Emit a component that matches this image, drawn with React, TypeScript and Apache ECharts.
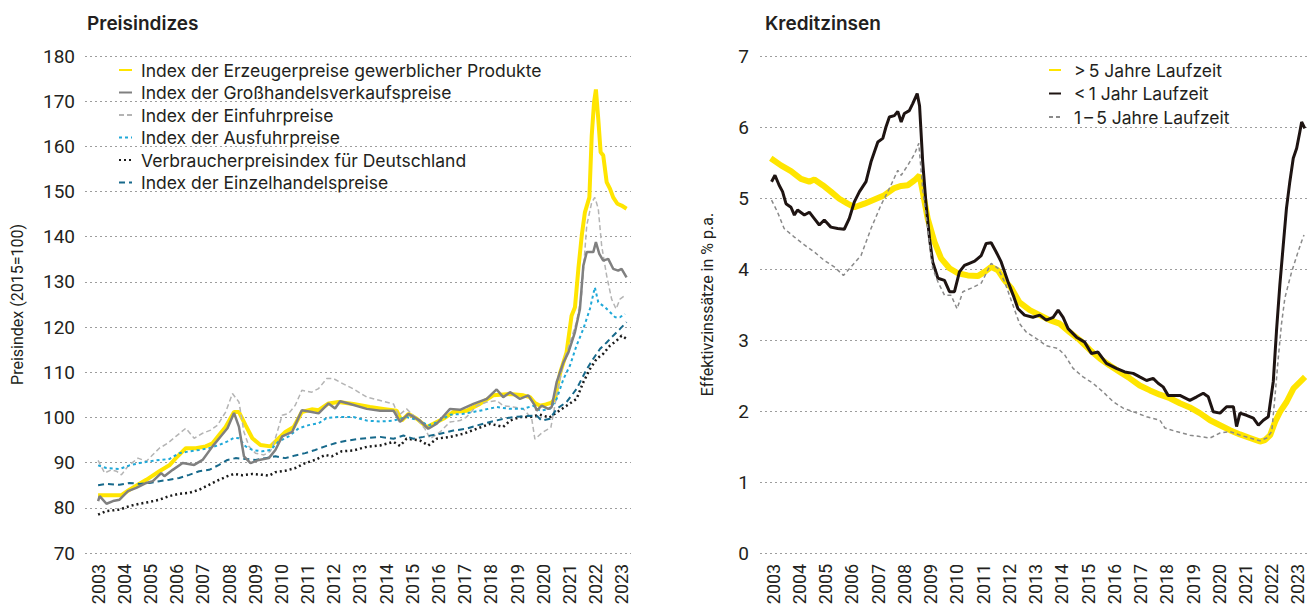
import React, { useEffect, useRef } from "react";
import * as echarts from "echarts";

// ---------- Tick labels ----------
const yearTicks: number[] = [2003, 2004, 2005, 2006, 2007, 2008, 2009, 2010, 2011, 2012, 2013, 2014, 2015, 2016, 2017, 2018, 2019, 2020, 2021, 2022, 2023];

// ---------- Left chart: Preisindizes (2015=100), [year, value] ----------
const erzeugerpreise: number[][] = [
  [2003.0, 82.8], [2003.89, 82.8], [2004.2, 84.0], [2004.84, 86.2], [2005.34, 88.1], [2005.72, 89.4], [2005.97, 91.0],
  [2006.35, 93.2], [2006.73, 93.2], [2007.11, 93.6], [2007.37, 94.3], [2007.62, 96.1], [2007.87, 97.9], [2008.19, 101.2],
  [2008.38, 101.2], [2008.63, 98.3], [2008.89, 95.4], [2009.2, 93.9], [2009.58, 93.6], [2009.9, 95.4], [2010.15, 96.8],
  [2010.47, 97.9], [2010.78, 101.2], [2011.16, 101.8], [2011.42, 101.6], [2011.8, 103.1], [2012.18, 103.4], [2012.75, 103.0],
  [2013.38, 102.3], [2013.89, 101.9], [2014.4, 101.5], [2014.59, 99.3], [2014.85, 100.8], [2015.17, 99.7], [2015.55, 97.9],
  [2015.8, 98.6], [2016.18, 99.7], [2016.57, 101.2], [2017.07, 101.5], [2017.58, 103.0], [2018.09, 104.9], [2018.73, 105.2],
  [2019.24, 104.9], [2019.49, 104.5], [2019.68, 103.2], [2019.88, 102.6], [2020.1, 102.9], [2020.32, 103.3], [2020.45, 104.2],
  [2020.64, 109.8], [2020.89, 114.4], [2021.08, 122.5], [2021.21, 124.4], [2021.34, 132.9], [2021.47, 140.3], [2021.59, 145.4],
  [2021.76, 148.7], [2021.85, 162.4], [2021.94, 169.8], [2022.01, 172.6], [2022.1, 166.1], [2022.19, 158.7], [2022.29, 158.0],
  [2022.42, 152.1], [2022.55, 150.6], [2022.67, 148.7], [2022.83, 147.3], [2022.99, 146.9], [2023.18, 146.2],
];
const grosshandel: number[][] = [
  [2003.0, 81.5], [2003.06, 82.6], [2003.32, 80.9], [2003.57, 81.5], [2003.82, 81.8], [2004.14, 83.7], [2004.46, 84.4],
  [2004.84, 85.5], [2005.09, 85.9], [2005.41, 87.7], [2005.53, 87.0], [2005.85, 88.4], [2006.23, 89.9], [2006.67, 89.5],
  [2006.99, 90.6], [2007.37, 93.6], [2007.68, 95.8], [2007.94, 97.6], [2008.19, 101.0], [2008.38, 97.9], [2008.57, 91.4],
  [2008.82, 89.9], [2009.14, 90.6], [2009.52, 91.0], [2009.77, 92.8], [2010.03, 95.8], [2010.41, 96.8], [2010.78, 101.6],
  [2011.16, 101.2], [2011.42, 100.9], [2011.8, 103.1], [2012.05, 102.0], [2012.24, 103.6], [2012.56, 103.1], [2013.26, 101.9],
  [2013.77, 101.5], [2014.28, 101.5], [2014.53, 99.0], [2014.85, 100.8], [2015.29, 99.3], [2015.61, 97.5], [2015.93, 98.6],
  [2016.44, 101.9], [2016.82, 101.7], [2017.33, 103.0], [2017.84, 104.1], [2018.22, 106.2], [2018.47, 104.5], [2018.73, 105.6],
  [2019.11, 104.1], [2019.43, 104.9], [2019.68, 102.6], [2019.75, 101.5], [2019.94, 102.6], [2020.19, 101.9], [2020.32, 102.3],
  [2020.51, 107.8], [2020.77, 112.2], [2020.96, 114.4], [2021.21, 118.9], [2021.4, 124.0], [2021.53, 133.6], [2021.66, 136.6],
  [2021.78, 136.6], [2021.91, 136.6], [2022.01, 138.8], [2022.14, 136.2], [2022.29, 134.7], [2022.48, 135.1], [2022.67, 132.9],
  [2022.86, 132.5], [2022.99, 132.9], [2023.18, 131.0],
];
const einfuhrpreise: number[][] = [
  [2003.0, 90.5], [2003.25, 87.7], [2003.51, 88.4], [2003.7, 88.1], [2003.89, 87.3], [2004.14, 89.2], [2004.52, 91.0],
  [2004.84, 90.3], [2005.03, 91.4], [2005.34, 93.2], [2005.66, 94.3], [2005.97, 95.8], [2006.35, 97.6], [2006.67, 95.4],
  [2006.99, 96.5], [2007.3, 97.2], [2007.56, 98.3], [2007.87, 101.2], [2008.13, 105.3], [2008.38, 103.4], [2008.57, 96.8],
  [2008.76, 93.6], [2009.01, 92.1], [2009.33, 91.7], [2009.58, 92.5], [2009.77, 95.4], [2010.03, 100.5], [2010.28, 100.9],
  [2010.53, 102.7], [2010.78, 106.0], [2011.16, 105.6], [2011.42, 106.4], [2011.73, 108.6], [2011.99, 108.6], [2012.24, 107.8],
  [2012.75, 106.3], [2013.26, 104.5], [2013.77, 103.75], [2014.28, 103.0], [2014.47, 100.4], [2014.78, 101.9], [2015.17, 99.7],
  [2015.48, 97.5], [2015.68, 95.3], [2016.06, 96.8], [2016.44, 99.0], [2016.82, 99.3], [2017.07, 100.1], [2017.46, 102.6],
  [2017.84, 103.4], [2018.22, 103.75], [2018.47, 102.6], [2018.86, 102.3], [2019.24, 101.9], [2019.56, 99.7], [2019.68, 95.2],
  [2019.97, 96.7], [2020.29, 97.8], [2020.51, 104.8], [2020.77, 112.2], [2021.02, 116.6], [2021.27, 121.1], [2021.46, 127.0],
  [2021.66, 142.5], [2021.85, 147.6], [2021.97, 148.7], [2022.1, 146.2], [2022.23, 138.0], [2022.42, 131.4], [2022.61, 126.2],
  [2022.78, 124.0], [2022.93, 126.2], [2023.12, 127.0],
];
const ausfuhrpreise: number[][] = [
  [2003.0, 89.4], [2003.32, 88.8], [2003.82, 88.6], [2004.2, 89.4], [2004.58, 89.9], [2004.96, 90.3], [2005.34, 90.6],
  [2005.72, 90.8], [2006.1, 92.1], [2006.48, 92.5], [2006.86, 92.8], [2007.24, 93.2], [2007.62, 93.9], [2007.94, 94.7],
  [2008.19, 95.5], [2008.38, 95.4], [2008.63, 93.6], [2008.89, 92.8], [2009.27, 92.5], [2009.58, 92.8], [2009.9, 94.7],
  [2010.28, 95.8], [2010.66, 97.6], [2011.04, 98.3], [2011.42, 98.7], [2011.73, 99.9], [2012.18, 100.1], [2012.75, 100.1],
  [2013.26, 99.3], [2013.77, 99.1], [2014.28, 99.3], [2014.78, 100.1], [2015.29, 99.3], [2015.61, 98.2], [2015.93, 98.9],
  [2016.44, 100.6], [2016.95, 100.8], [2017.58, 101.5], [2018.22, 102.3], [2018.73, 101.9], [2019.24, 101.9], [2019.62, 102.6],
  [2019.88, 101.5], [2020.26, 101.9], [2020.51, 104.1], [2020.77, 108.5], [2021.02, 111.5], [2021.27, 115.9], [2021.53, 119.6],
  [2021.78, 124.0], [2021.97, 128.8], [2022.1, 125.5], [2022.36, 124.4], [2022.55, 123.3], [2022.74, 122.2], [2022.93, 122.2],
  [2023.12, 122.9],
];
const verbraucherpreise: number[][] = [
  [2003.0, 78.5], [2003.32, 79.3], [2003.82, 79.6], [2004.2, 80.4], [2004.58, 80.9], [2004.96, 81.3], [2005.34, 81.8],
  [2005.72, 82.6], [2006.1, 83.1], [2006.48, 83.3], [2006.86, 84.0], [2007.24, 85.1], [2007.62, 86.2], [2007.94, 87.0],
  [2008.19, 87.5], [2008.51, 87.2], [2008.89, 87.5], [2009.27, 87.3], [2009.52, 87.1], [2009.77, 87.9], [2010.15, 88.2],
  [2010.53, 88.8], [2010.91, 89.9], [2011.29, 90.6], [2011.67, 91.7], [2011.92, 91.4], [2012.3, 92.5], [2012.75, 92.7],
  [2013.26, 93.5], [2013.77, 93.8], [2014.28, 94.6], [2014.53, 93.7], [2014.78, 95.3], [2015.29, 94.9], [2015.61, 93.8],
  [2015.93, 95.3], [2016.44, 95.7], [2016.95, 96.4], [2017.46, 97.5], [2017.97, 98.6], [2018.47, 97.9], [2018.73, 99.3],
  [2019.11, 100.1], [2019.49, 100.1], [2019.87, 100.6], [2020.24, 100.0], [2020.51, 101.1], [2020.89, 102.6], [2021.27, 104.1],
  [2021.53, 107.8], [2021.78, 110.7], [2022.04, 113.0], [2022.29, 114.1], [2022.55, 115.9], [2022.8, 117.0], [2022.99, 118.1],
  [2023.18, 117.4],
];
const einzelhandel: number[][] = [
  [2003.0, 85.0], [2003.32, 85.3], [2003.82, 85.1], [2004.2, 85.5], [2004.58, 85.3], [2004.96, 85.5], [2005.34, 85.9],
  [2005.72, 86.2], [2006.1, 86.6], [2006.48, 87.3], [2006.86, 88.1], [2007.24, 88.4], [2007.62, 89.5], [2007.94, 90.6],
  [2008.25, 91.0], [2008.63, 90.8], [2009.01, 90.6], [2009.39, 91.0], [2009.77, 91.4], [2010.15, 91.0], [2010.53, 91.6],
  [2010.91, 92.1], [2011.29, 92.8], [2011.67, 93.6], [2012.05, 94.3], [2012.43, 94.8], [2013.0, 95.3], [2013.77, 95.7],
  [2014.28, 95.3], [2014.66, 96.0], [2015.04, 95.3], [2015.42, 95.7], [2016.06, 96.4], [2016.57, 97.1], [2017.07, 97.5],
  [2017.46, 98.2], [2017.97, 99.0], [2018.47, 99.7], [2018.86, 100.1], [2019.37, 100.3], [2019.75, 100.4], [2019.94, 99.3],
  [2020.26, 99.7], [2020.51, 101.9], [2020.89, 103.4], [2021.27, 106.3], [2021.66, 110.7], [2021.91, 113.0], [2022.17, 115.2],
  [2022.42, 116.6], [2022.67, 118.1], [2022.93, 119.6], [2023.18, 121.1],
];

// ---------- Right chart: Kreditzinsen in % p.a., [year, value] ----------
const ueber5Jahre: number[][] = [
  [2002.91, 5.56], [2003.3, 5.46], [2003.68, 5.38], [2004.06, 5.27], [2004.38, 5.23], [2004.57, 5.26], [2004.89, 5.18],
  [2005.2, 5.09], [2005.52, 4.99], [2005.84, 4.92], [2006.1, 4.87], [2006.48, 4.92], [2006.86, 4.98], [2007.24, 5.04],
  [2007.62, 5.14], [2007.88, 5.17], [2008.13, 5.18], [2008.39, 5.25], [2008.58, 5.32], [2008.7, 5.09], [2008.89, 4.71],
  [2009.15, 4.38], [2009.4, 4.15], [2009.72, 4.01], [2010.04, 3.94], [2010.42, 3.91], [2010.8, 3.9], [2011.06, 3.96],
  [2011.31, 4.03], [2011.57, 3.98], [2011.82, 3.84], [2012.08, 3.73], [2012.39, 3.53], [2012.78, 3.42], [2013.16, 3.35],
  [2013.54, 3.28], [2013.92, 3.23], [2014.3, 3.11], [2014.68, 3.0], [2015.07, 2.86], [2015.45, 2.74], [2015.83, 2.64],
  [2016.21, 2.55], [2016.59, 2.46], [2016.97, 2.36], [2017.36, 2.29], [2017.74, 2.23], [2018.12, 2.18], [2018.5, 2.11],
  [2018.88, 2.05], [2019.26, 1.97], [2019.65, 1.87], [2020.03, 1.8], [2020.41, 1.73], [2020.79, 1.67], [2021.17, 1.62],
  [2021.55, 1.57], [2021.74, 1.59], [2021.94, 1.66], [2022.13, 1.85], [2022.32, 1.99], [2022.57, 2.13], [2022.83, 2.32],
  [2023.08, 2.41], [2023.27, 2.48],
];
const unter1Jahr: number[][] = [
  [2002.94, 5.23], [2003.07, 5.32], [2003.23, 5.18], [2003.36, 5.09], [2003.49, 4.92], [2003.68, 4.87], [2003.81, 4.76],
  [2003.93, 4.83], [2004.19, 4.76], [2004.38, 4.8], [2004.57, 4.71], [2004.76, 4.62], [2004.95, 4.69], [2005.2, 4.59],
  [2005.46, 4.57], [2005.71, 4.56], [2005.9, 4.71], [2006.1, 4.95], [2006.29, 5.09], [2006.54, 5.23], [2006.73, 5.51],
  [2006.99, 5.79], [2007.18, 5.84], [2007.3, 6.0], [2007.43, 6.14], [2007.62, 6.16], [2007.75, 6.22], [2007.88, 6.07],
  [2008.0, 6.19], [2008.19, 6.23], [2008.32, 6.33], [2008.49, 6.47], [2008.58, 6.3], [2008.7, 5.51], [2008.83, 4.9],
  [2008.96, 4.43], [2009.08, 4.1], [2009.28, 3.87], [2009.53, 3.84], [2009.72, 3.68], [2009.91, 3.68], [2010.1, 3.96],
  [2010.29, 4.05], [2010.48, 4.08], [2010.68, 4.11], [2010.93, 4.19], [2011.12, 4.36], [2011.31, 4.37], [2011.5, 4.24],
  [2011.69, 4.1], [2011.95, 3.82], [2012.18, 3.6], [2012.33, 3.44], [2012.58, 3.35], [2012.9, 3.32], [2013.16, 3.35],
  [2013.41, 3.28], [2013.67, 3.32], [2013.86, 3.42], [2014.05, 3.32], [2014.24, 3.16], [2014.56, 3.04], [2014.87, 2.97],
  [2015.13, 2.81], [2015.38, 2.83], [2015.7, 2.67], [2016.08, 2.6], [2016.4, 2.55], [2016.72, 2.53], [2016.97, 2.48],
  [2017.23, 2.43], [2017.48, 2.46], [2017.67, 2.39], [2017.86, 2.34], [2018.05, 2.22], [2018.5, 2.22], [2018.88, 2.15],
  [2019.14, 2.2], [2019.39, 2.25], [2019.58, 2.2], [2019.77, 1.99], [2020.03, 1.97], [2020.28, 2.06], [2020.54, 2.06],
  [2020.66, 1.78], [2020.79, 1.97], [2021.04, 1.94], [2021.3, 1.9], [2021.49, 1.8], [2021.68, 1.87], [2021.87, 1.92],
  [2022.06, 2.42], [2022.18, 3.12], [2022.31, 3.78], [2022.44, 4.34], [2022.56, 4.85], [2022.69, 5.23], [2022.82, 5.56],
  [2022.95, 5.7], [2023.07, 5.93], [2023.14, 6.07], [2023.26, 5.98],
];
const ein5Jahre: number[][] = [
  [2002.94, 4.97], [2003.17, 4.8], [2003.42, 4.57], [2003.81, 4.45], [2004.19, 4.34], [2004.57, 4.24], [2004.95, 4.12],
  [2005.33, 4.03], [2005.68, 3.91], [2005.97, 4.03], [2006.35, 4.19], [2006.73, 4.57], [2007.11, 4.9], [2007.49, 5.18],
  [2007.75, 5.39], [2007.88, 5.32], [2008.13, 5.46], [2008.39, 5.62], [2008.55, 5.77], [2008.7, 5.13], [2008.89, 4.57],
  [2009.08, 4.01], [2009.28, 3.82], [2009.53, 3.63], [2009.78, 3.63], [2010.01, 3.44], [2010.23, 3.68], [2010.55, 3.73],
  [2010.93, 3.8], [2011.31, 4.08], [2011.57, 4.01], [2011.82, 3.82], [2012.14, 3.49], [2012.39, 3.23], [2012.65, 3.11],
  [2013.03, 3.02], [2013.41, 2.92], [2013.86, 2.88], [2014.11, 2.79], [2014.43, 2.6], [2014.81, 2.48], [2015.19, 2.39],
  [2015.57, 2.27], [2015.96, 2.13], [2016.34, 2.04], [2016.72, 1.99], [2017.23, 1.92], [2017.74, 1.87], [2017.93, 1.76],
  [2018.37, 1.71], [2018.88, 1.66], [2019.26, 1.64], [2019.65, 1.62], [2020.03, 1.69], [2020.41, 1.71], [2020.79, 1.66],
  [2021.17, 1.62], [2021.55, 1.58], [2021.81, 1.62], [2022.0, 1.71], [2022.12, 2.19], [2022.25, 2.75], [2022.37, 3.22],
  [2022.5, 3.59], [2022.63, 3.78], [2022.76, 3.96], [2022.88, 4.1], [2023.01, 4.25], [2023.14, 4.39], [2023.23, 4.48],
];

const leftNames: string[] = [
  "Index der Erzeugerpreise gewerblicher Produkte",
  "Index der Großhandelsverkaufspreise",
  "Index der Einfuhrpreise",
  "Index der Ausfuhrpreise",
  "Verbraucherpreisindex für Deutschland",
  "Index der Einzelhandelspreise",
];
const rightNames: string[] = [
  ">\u20095 Jahre Laufzeit",
  "<\u20091 Jahr Laufzeit",
  "1\u2009–\u20095 Jahre Laufzeit",
];

const FONT = "Roboto, 'Noto Sans', sans-serif";
const FONT2 = "Inter, Roboto, sans-serif";
const TEXT = "#231f20";
const GRID_LINE = { lineStyle: { color: "#9d9d9d", type: [2, 3] as number[], width: 1 } };

export default function App() {
  const ref = useRef<HTMLDivElement>(null);

  useEffect(() => {
    if (!ref.current) return;
    const chart = echarts.init(ref.current, undefined, { renderer: "svg" });

    const xAxisBase = (gridIndex: number, max: number) => ({
      type: "value",
      gridIndex,
      min: 2002.5,
      max,
      axisLine: { show: false },
      axisTick: { show: false },
      splitLine: { show: false },
      axisLabel: {
        customValues: yearTicks,
        formatter: (v: number) => String(Math.round(v)),
        rotate: 90,
        align: "center",
        verticalAlign: "middle",
        margin: 31,
        fontSize: 18,
        color: TEXT,
        fontFamily: FONT,
      },
    });

    const line = (name: string, data: number[][], color: string, width: number, type: any, xi: number, z: number) => ({
      name,
      type: "line",
      xAxisIndex: xi,
      yAxisIndex: xi,
      data,
      symbol: "none",
      z,
      lineStyle: { color, width, type },
      itemStyle: { color },
    });

    chart.setOption({
      animation: false,
      textStyle: { fontFamily: FONT, color: TEXT },
      title: [
        { text: "Preisindizes", left: 82, top: 9, textStyle: { fontSize: 19, fontWeight: 600, color: TEXT, fontFamily: FONT2 } },
        { text: "Kreditzinsen", left: 760, top: 9, textStyle: { fontSize: 19, fontWeight: 600, color: TEXT, fontFamily: FONT2 } },
      ],
      grid: [
        { left: 85, top: 56, width: 546, height: 497 },
        { left: 760, top: 56, width: 549, height: 497 },
      ],
      legend: [
        {
          data: leftNames,
          orient: "vertical",
          left: 113,
          top: 55,
          itemWidth: 13,
          itemHeight: 6,
          itemGap: 2.5,
          itemStyle: { opacity: 0 },
          textStyle: { fontSize: 17.5, color: TEXT, fontFamily: FONT2, lineHeight: 20, padding: [0, 0, 0, 4] },
        },
        {
          data: rightNames,
          orient: "vertical",
          left: 1043,
          top: 55,
          itemWidth: 12,
          itemHeight: 8,
          itemGap: 3.5,
          itemStyle: { opacity: 0 },
          textStyle: { fontSize: 17.5, color: TEXT, fontFamily: FONT2, lineHeight: 20, padding: [0, 0, 0, 8] },
        },
      ],
      xAxis: [xAxisBase(0, 2023.35), xAxisBase(1, 2023.42)],
      yAxis: [
        {
          type: "value",
          gridIndex: 0,
          min: 70,
          max: 180,
          interval: 10,
          name: "Preisindex (2015=100)",
          nameLocation: "middle",
          nameGap: 60,
          nameRotate: 90,
          nameTextStyle: { fontSize: 16, color: TEXT, fontFamily: FONT },
          axisLine: { show: false },
          axisTick: { show: false },
          axisLabel: { fontSize: 19, color: TEXT, margin: 10, fontFamily: FONT },
          splitLine: GRID_LINE,
        },
        {
          type: "value",
          gridIndex: 1,
          min: 0,
          max: 7,
          interval: 1,
          name: "Effektivzinssätze in % p.a.",
          nameLocation: "middle",
          nameGap: 45,
          nameRotate: 90,
          nameTextStyle: { fontSize: 16, color: TEXT, fontFamily: FONT },
          axisLine: { show: false },
          axisTick: { show: false },
          axisLabel: { fontSize: 19, color: TEXT, margin: 11, fontFamily: FONT },
          splitLine: GRID_LINE,
        },
      ],
      series: [
        line(leftNames[0], erzeugerpreise, "#ffe500", 4, "solid", 0, 2),
        line(leftNames[1], grosshandel, "#808080", 2.5, "solid", 0, 3),
        line(leftNames[2], einfuhrpreise, "#b4b4b4", 1.5, [5, 3], 0, 2),
        line(leftNames[3], ausfuhrpreise, "#1fa8d8", 2, [3, 3], 0, 2),
        line(leftNames[4], verbraucherpreise, "#1a1a1a", 2.5, [2, 3], 0, 2),
        line(leftNames[5], einzelhandel, "#17698b", 2, [6, 4], 0, 2),
        line(rightNames[0], ueber5Jahre, "#ffe500", 6, "solid", 1, 2),
        line(rightNames[1], unter1Jahr, "#1e1412", 3, "solid", 1, 3),
        line(rightNames[2], ein5Jahre, "#8a8a8a", 1.5, [4, 3], 1, 4),
      ],
    });

    return () => chart.dispose();
  }, []);

  return <div ref={ref} style={{ position: "absolute", left: 0, top: 0, width: 1309, height: 608 }} />;
}
